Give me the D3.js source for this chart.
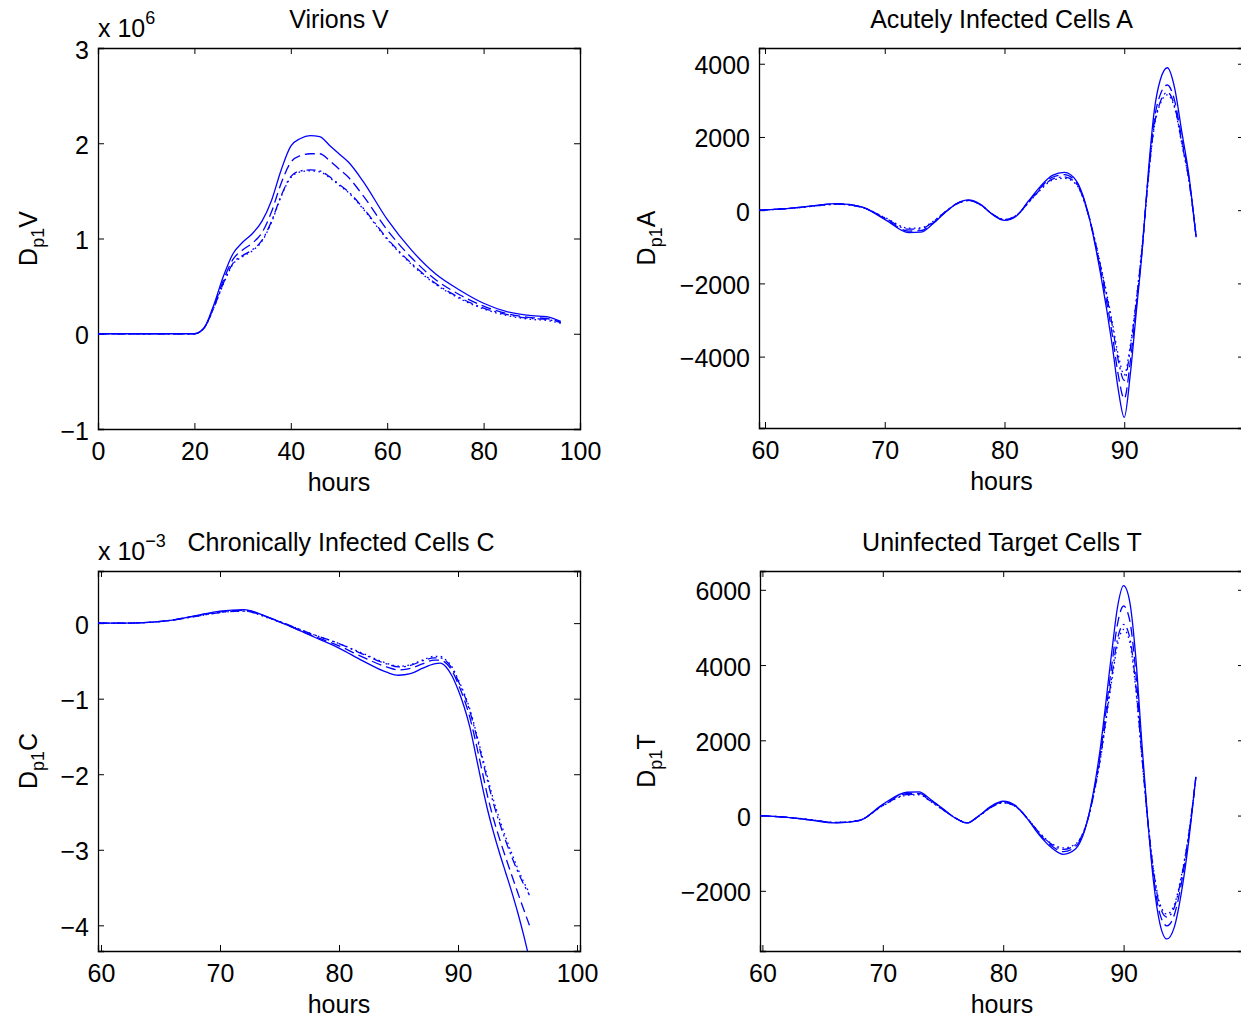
<!DOCTYPE html>
<html>
<head>
<meta charset="utf-8">
<script src="https://cdnjs.cloudflare.com/ajax/libs/d3/7.8.5/d3.min.js"></script>
<style>
  body { margin: 0; background: #fff; }
  svg { display: block; font-family: "Liberation Sans", Arial, sans-serif; }
</style>
</head>
<body>
<svg id="chart" width="1241" height="1020"></svg>
<script>
// ---- Virions V (x 10^6) ----
const vHours = [0, 10, 20, 22, 24, 26, 28, 30, 32, 34, 36, 38, 40, 42, 44, 46, 48, 50, 52, 55, 60, 65, 70, 75, 80, 85, 90, 93, 96]
const vSolid = [0, 0, 0, 0.06, 0.3, 0.6, 0.84, 0.96, 1.05, 1.18, 1.4, 1.72, 1.97, 2.05, 2.08, 2.07, 1.98, 1.89, 1.8, 1.6, 1.2, 0.88, 0.63, 0.46, 0.32, 0.23, 0.19, 0.18, 0.13]
const vDashed = [0, 0, 0, 0.06, 0.28, 0.56, 0.78, 0.88, 0.95, 1.06, 1.28, 1.58, 1.8, 1.87, 1.89, 1.89, 1.82, 1.73, 1.64, 1.45, 1.09, 0.8, 0.57, 0.41, 0.29, 0.21, 0.17, 0.16, 0.12]
const vDashDot = [0, 0, 0, 0.06, 0.27, 0.53, 0.74, 0.82, 0.88, 0.98, 1.18, 1.45, 1.65, 1.71, 1.72, 1.71, 1.65, 1.57, 1.49, 1.32, 1.0, 0.74, 0.53, 0.38, 0.27, 0.2, 0.16, 0.15, 0.12]
const vDotted = [0, 0, 0, 0.06, 0.27, 0.52, 0.73, 0.81, 0.87, 0.97, 1.17, 1.44, 1.64, 1.7, 1.71, 1.7, 1.64, 1.56, 1.48, 1.31, 0.99, 0.73, 0.52, 0.37, 0.26, 0.19, 0.15, 0.14, 0.11]

// ---- Acutely infected cells A ----
const aHours = [59.5, 62, 64, 66, 68, 70, 72, 73, 74, 75, 76, 77, 78, 79, 80, 81, 82, 83, 84, 85, 86, 87, 88, 89, 89.5, 90, 90.5, 91, 91.5, 92, 92.5, 93, 93.6, 94.2, 94.8, 95.4, 96]
const aSolid = [0, 50, 120, 180, 100, -250, -610, -600, -380, -80, 180, 280, 160, -120, -280, -160, 250, 650, 950, 1030, 800, -100, -1700, -3700, -4900, -5660, -4500, -2800, -1100, 1000, 2700, 3550, 3890, 3350, 2150, 950, -740]
const aDashed = [0, 50, 115, 175, 95, -230, -570, -560, -360, -70, 175, 270, 150, -115, -270, -150, 230, 610, 900, 970, 760, -110, -1600, -3400, -4500, -5150, -4150, -2650, -1050, 900, 2450, 3150, 3420, 3000, 1950, 860, -720]
const aDashDot = [0, 45, 110, 165, 90, -210, -520, -510, -330, -60, 170, 265, 145, -110, -260, -140, 210, 570, 850, 910, 720, -120, -1500, -3150, -4100, -4650, -3800, -2500, -1000, 850, 2300, 2950, 3220, 2850, 1850, 820, -700]
const aDotted = [0, 45, 105, 160, 85, -200, -490, -485, -315, -55, 165, 260, 140, -105, -255, -135, 200, 550, 820, 870, 700, -120, -1450, -3050, -3950, -4500, -3700, -2450, -950, 830, 2250, 2900, 3150, 2800, 1820, 800, -690]

// ---- Chronically infected cells C (x 10^-3) ----
const cHours = [59.75, 62, 64, 66, 68, 70, 72, 74, 76, 78, 80, 82, 84, 85, 86, 87, 88, 88.5, 89, 89.5, 90, 90.5, 91, 91.5, 92, 92.5, 93, 93.5, 94, 94.5, 95, 95.5, 96]
const cSolid = [0, 0, 0.01, 0.04, 0.1, 0.16, 0.18, 0.08, -0.05, -0.19, -0.33, -0.5, -0.65, -0.69, -0.67, -0.6, -0.54, -0.53, -0.58, -0.7, -0.88, -1.1, -1.38, -1.75, -2.13, -2.48, -2.78, -3.05, -3.3, -3.55, -3.82, -4.12, -4.45]
const cDashed = [0, 0, 0.01, 0.04, 0.1, 0.15, 0.17, 0.08, -0.05, -0.18, -0.3, -0.45, -0.58, -0.62, -0.6, -0.54, -0.49, -0.49, -0.53, -0.63, -0.8, -1.0, -1.25, -1.58, -1.94, -2.3, -2.6, -2.86, -3.1, -3.33, -3.56, -3.78, -4.0]
const cDashDot = [0, 0, 0.01, 0.04, 0.09, 0.14, 0.16, 0.08, -0.04, -0.16, -0.27, -0.41, -0.54, -0.58, -0.56, -0.5, -0.46, -0.46, -0.5, -0.6, -0.76, -0.94, -1.17, -1.46, -1.78, -2.1, -2.4, -2.65, -2.88, -3.09, -3.28, -3.45, -3.6]
const cDotted = [0, 0, 0.01, 0.04, 0.09, 0.14, 0.16, 0.07, -0.04, -0.16, -0.27, -0.4, -0.53, -0.57, -0.55, -0.49, -0.44, -0.44, -0.49, -0.58, -0.74, -0.92, -1.14, -1.43, -1.74, -2.05, -2.35, -2.6, -2.83, -3.04, -3.24, -3.42, -3.57]

// ---- Uninfected target cells T ----
const tHours = [59.8, 62, 64, 66, 68, 70, 72, 73, 74, 75, 76, 77, 78, 79, 80, 81, 82, 83, 84, 85, 86, 87, 88, 89, 89.5, 90, 90.5, 91, 91.5, 92, 92.5, 93, 93.6, 94.2, 94.8, 95.4, 96]
const tSolid = [0, -50, -120, -195, -140, 300, 620, 630, 420, 180, -60, -200, 0, 250, 380, 270, -80, -520, -850, -1030, -890, -130, 1640, 4300, 5550, 6110, 5700, 4250, 2000, -100, -1800, -2850, -3280, -2980, -2050, -700, 1030]
const tDashed = [0, -48, -115, -190, -135, 280, 580, 590, 395, 165, -60, -195, -5, 235, 360, 255, -75, -490, -800, -960, -830, -130, 1500, 3950, 5100, 5570, 5200, 3850, 1800, -100, -1650, -2600, -2930, -2650, -1800, -580, 1020]
const tDashDot = [0, -45, -110, -185, -130, 265, 555, 565, 375, 155, -60, -190, -10, 220, 345, 245, -70, -460, -760, -900, -780, -130, 1400, 3650, 4700, 5080, 4750, 3500, 1650, -100, -1500, -2400, -2700, -2450, -1650, -520, 1010]
const tDotted = [0, -45, -108, -180, -128, 258, 540, 550, 365, 150, -58, -186, -10, 215, 338, 240, -68, -450, -740, -860, -760, -130, 1350, 3550, 4550, 4950, 4620, 3400, 1600, -100, -1450, -2330, -2620, -2380, -1600, -500, 1000]

const vTicksX = [0, 20, 40, 60, 80, 100], vTicksY = [-1, 0, 1, 2, 3]
const aTicksX = [60, 70, 80, 90, 100], aTicksY = [-4000, -2000, 0, 2000, 4000]
const cTicksX = [60, 70, 80, 90, 100], cTicksY = [-4, -3, -2, -1, 0]
const tTicksX = [60, 70, 80, 90, 100], tTicksY = [-2000, 0, 2000, 4000, 6000]

const dashes = [null, '10,5', '9,4,2,4', '1.6,3.4']

const panels = [
  {id: 'v', title: 'Virions V', letter: 'V', hours: vHours, series: [vSolid, vDashed, vDashDot, vDotted],
   xd: [0, 100], yd: [-1, 3], box: [98, 48, 580, 429], tx: vTicksX, ty: vTicksY, exp: '6', labX: 37},
  {id: 'a', title: 'Acutely Infected Cells A', letter: 'A', hours: aHours, series: [aSolid, aDashed, aDashDot, aDotted],
   xd: [59.5, 100], yd: [-5950, 4430], box: [759, 48, 1244, 428], tx: aTicksX, ty: aTicksY, labX: 655, clipLabels: true},
  {id: 'c', title: 'Chronically Infected Cells C', letter: 'C', hours: cHours, series: [cSolid, cDashed, cDashDot, cDotted],
   xd: [59.75, 100.25], yd: [-4.34, 0.69], box: [98, 571, 580, 951], tx: cTicksX, ty: cTicksY, exp: '\u22123', labX: 37, titleX: 341},
  {id: 't', title: 'Uninfected Target Cells T', letter: 'T', hours: tHours, series: [tSolid, tDashed, tDashDot, tDotted],
   xd: [59.8, 100], yd: [-3600, 6500], box: [760, 571, 1244, 951], tx: tTicksX, ty: tTicksY, labX: 655, clipLabels: true}
]

const svg = d3.select('#chart')
const fmt = d => String(d).replace('-', '\u2212')

panels.forEach(p => {
  let [x0, y0, x1, y1] = p.box
  let x = d3.scaleLinear().domain(p.xd).range([x0, x1]),
      y = d3.scaleLinear().domain(p.yd).range([y1, y0])
  let g = svg.append('g')

  g.append('clipPath').attr('id', 'clip-' + p.id)
    .append('rect').attr('x', x0).attr('y', y0).attr('width', x1 - x0).attr('height', y1 - y0)

  // the right-hand panels run past the window edge, so their last x label is not shown
  let xfmt = p.clipLabels ? (d => d >= 100 ? '' : fmt(d)) : fmt

  // axes on all four sides, ticks pointing inward
  let ax = [
    [d3.axisBottom(x).tickValues(p.tx).tickSize(-6).tickFormat(xfmt), `translate(0,${y1})`],
    [d3.axisTop(x).tickValues(p.tx).tickSize(-6).tickFormat(''), `translate(0,${y0})`],
    [d3.axisLeft(y).tickValues(p.ty).tickSize(-6).tickFormat(fmt), `translate(${x0},0)`],
    [d3.axisRight(y).tickValues(p.ty).tickSize(-6).tickFormat(''), `translate(${x1},0)`]
  ]
  ax.forEach(([a, tr], i) => {
    let s = g.append('g').attr('transform', tr).call(a)
    s.select('.domain').attr('stroke', '#000').attr('stroke-width', 1.3)
    s.selectAll('.tick line').attr('stroke', '#000').attr('stroke-width', 1)
    s.selectAll('.tick text').attr('fill', '#000').style('font-size', '25px')
      .style('font-family', '"Liberation Sans", Arial, sans-serif')
    if (i == 0) s.selectAll('.tick text').attr('dy', '0.71em').attr('y', 13)
    if (i == 2) s.selectAll('.tick text').attr('x', -9).attr('dy', '0.4em')
  })

  let line = d3.line().x(d => x(d[0])).y(d => y(d[1])).curve(d3.curveMonotoneX)
  p.series.forEach((vals, k) => {
    g.append('path')
      .attr('clip-path', `url(#clip-${p.id})`)
      .attr('d', line(p.hours.map((h, i) => [h, vals[i]])))
      .attr('fill', 'none')
      .attr('stroke', '#0000ff')
      .attr('stroke-width', 1.3)
      .attr('stroke-dasharray', dashes[k])
  })

  let cx = p.titleX || (x0 + Math.min(x1, 1244)) / 2
  g.append('text').attr('x', cx).attr('y', y0 - 20).attr('text-anchor', 'middle')
    .style('font-size', '25px').text(p.title)
  g.append('text').attr('x', (x0 + x1) / 2).attr('y', y1 + 62).attr('text-anchor', 'middle')
    .style('font-size', '25px').text('hours')

  let yl = g.append('text').attr('transform', `translate(${p.labX},${(y0 + y1) / 2}) rotate(-90)`)
    .attr('text-anchor', 'middle').style('font-size', '25px')
  yl.append('tspan').text('D')
  yl.append('tspan').attr('dy', 7).style('font-size', '18px').text('p1')
  yl.append('tspan').attr('dy', -7).text(p.letter)

  if (p.exp) {
    let e = g.append('text').attr('x', x0).attr('y', y0 - 11).style('font-size', '25px')
    e.append('tspan').text('x 10')
    e.append('tspan').attr('dy', -13).style('font-size', '18px').text(p.exp)
  }
})
</script>
</body>
</html>
